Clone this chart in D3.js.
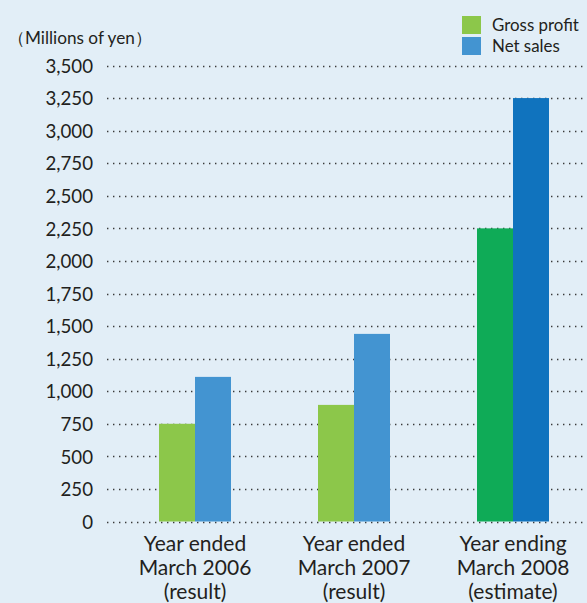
<!DOCTYPE html>
<html>
<head>
<meta charset="utf-8">
<script src="https://cdn.jsdelivr.net/npm/d3@7"></script>
<style>
  html, body { margin: 0; padding: 0; background: #e2eef7; }
  svg { display: block; }
  text { font-family: Lato, "Open Sans", sans-serif; fill: #231f20; }
</style>
</head>
<body>
<svg id="chart" width="587" height="603"></svg>
<script>
// Fiscal years shown on the x axis (each label split into lines)
const periods = ["FY2006", "FY2007", "FY2008"];
const periodLabels = [
  ["Year ended", "March 2006", "(result)"],
  ["Year ended", "March 2007", "(result)"],
  ["Year ending", "March 2008", "(estimate)"]
];
// Series values, millions of yen
const grossProfit = [750, 895, 2250];
const netSales = [1110, 1440, 3250];
// Results are drawn in lighter tones, the estimate in deeper tones
const grossColors = ["#8cc74a", "#8cc74a", "#0fab57"];
const salesColors = ["#4394d1", "#4394d1", "#1073be"];
const yTicks = [0, 250, 500, 750, 1000, 1250, 1500, 1750, 2000, 2250, 2500, 2750, 3000, 3250, 3500];
const seriesNames = ["Gross profit", "Net sales"];

const svg = d3.select("#chart");
const W = 587, H = 603;

const y = d3.scaleLinear().domain([0, 3500]).range([521.5, 65.5]);
const x = d3.scalePoint().domain(periods).range([195, 513]);
const inner = d3.scaleBand().domain(seriesNames).range([-36, 36]).padding(0);

const fmt = d3.format(",");

// Dotted horizontal grid
svg.append("g").selectAll("line")
  .data(yTicks)
  .join("line")
  .attr("x1", 107).attr("x2", W)
  .attr("y1", d => Math.round(y(d)) + 0.5)
  .attr("y2", d => Math.round(y(d)) + 0.5)
  .attr("stroke", "#3a3a3a")
  .attr("stroke-width", 1.4)
  .attr("stroke-dasharray", "1.4,4.6");

// Y axis labels
const yAxis = d3.axisLeft(y).tickValues(yTicks).tickFormat(fmt).tickSize(0).tickPadding(0);
const gy = svg.append("g").attr("transform", "translate(93,0)").call(yAxis);
gy.select(".domain").remove();
gy.selectAll("text")
  .attr("font-family", "Lato, 'Open Sans', sans-serif")
  .attr("font-size", 18.7)
  .attr("fill", "#231f20")
  .attr("dy", "0.36em");

// Bars
const data = periods.map((p, i) => ({ p, i }));
const groups = svg.append("g").selectAll("g")
  .data(data)
  .join("g")
  .attr("transform", d => `translate(${x(d.p)},0)`);

groups.append("rect")
  .attr("x", inner("Gross profit"))
  .attr("width", inner.bandwidth())
  .attr("y", d => y(grossProfit[d.i]))
  .attr("height", d => y(0) - y(grossProfit[d.i]))
  .attr("fill", d => grossColors[d.i]);

groups.append("rect")
  .attr("x", inner("Net sales"))
  .attr("width", inner.bandwidth())
  .attr("y", d => y(netSales[d.i]))
  .attr("height", d => y(0) - y(netSales[d.i]))
  .attr("fill", d => salesColors[d.i]);

// X axis labels (three lines each)
groups.append("text")
  .attr("text-anchor", "middle")
  .attr("font-size", 21)
  .selectAll("tspan")
  .data(d => periodLabels[d.i])
  .join("tspan")
  .attr("x", 0)
  .attr("y", (d, j) => 551 + j * 24)
  .text(d => d);

// Unit label
svg.append("text")
  .attr("x", 8).attr("y", 44)
  .attr("font-size", 17.2)
  .text("（Millions of yen）");

// Legend
const legend = svg.append("g");
const legendColors = [grossColors[0], salesColors[0]];
seriesNames.forEach((name, i) => {
  legend.append("rect")
    .attr("x", 462).attr("y", 16 + i * 21)
    .attr("width", 19).attr("height", 18)
    .attr("fill", legendColors[i]);
  legend.append("text")
    .attr("x", 492).attr("y", 31 + i * 21)
    .attr("font-size", 16.9)
    .text(name);
});
</script>
</body>
</html>
